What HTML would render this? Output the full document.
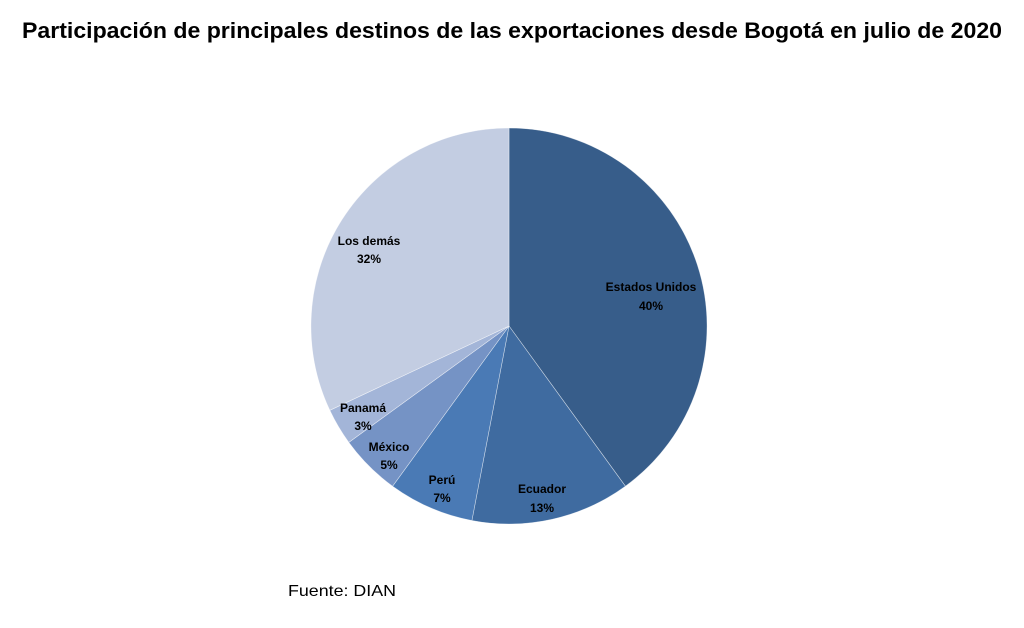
<!DOCTYPE html>
<html><head><meta charset="utf-8"><style>
body{margin:0;background:#fff;width:1024px;height:623px;overflow:hidden}
svg text{font-family:"Liberation Sans",sans-serif}
</style></head><body>
<svg width="1024" height="623" viewBox="0 0 1024 623">
<text x="22" y="38" font-size="22" font-weight="bold" fill="#000" textLength="980" lengthAdjust="spacingAndGlyphs">Participación de principales destinos de las exportaciones desde Bogotá en julio de 2020</text>
<g stroke="#fff" stroke-width="0.6" stroke-opacity="0.6">
<path d="M509,326 L509,128 A198,198 0 0 1 625.4,486.2 Z" fill="#375d8a"/>
<path d="M509,326 L625.4,486.2 A198,198 0 0 1 471.9,520.5 Z" fill="#3f6ba0"/>
<path d="M509,326 L471.9,520.5 A198,198 0 0 1 392.6,486.2 Z" fill="#4a7ab5"/>
<path d="M509,326 L392.6,486.2 A198,198 0 0 1 348.8,442.4 Z" fill="#7593c5"/>
<path d="M509,326 L348.8,442.4 A198,198 0 0 1 329.8,410.3 Z" fill="#a3b5d8"/>
<path d="M509,326 L329.8,410.3 A198,198 0 0 1 509,128 Z" fill="#c3cde2"/>
</g>
<g font-size="12" font-weight="bold" fill="#000" text-anchor="middle">
<text x="651" y="291">Estados Unidos</text><text x="651" y="310">40%</text>
<text x="542" y="493">Ecuador</text><text x="542" y="512">13%</text>
<text x="442" y="484">Perú</text><text x="442" y="502">7%</text>
<text x="389" y="451">México</text><text x="389" y="469">5%</text>
<text x="363" y="412">Panamá</text><text x="363" y="430">3%</text>
<text x="369" y="245">Los demás</text><text x="369" y="263">32%</text>
</g>
<text x="288" y="596" font-size="16" fill="#000" textLength="108" lengthAdjust="spacingAndGlyphs">Fuente: DIAN</text>
</svg>
</body></html>
